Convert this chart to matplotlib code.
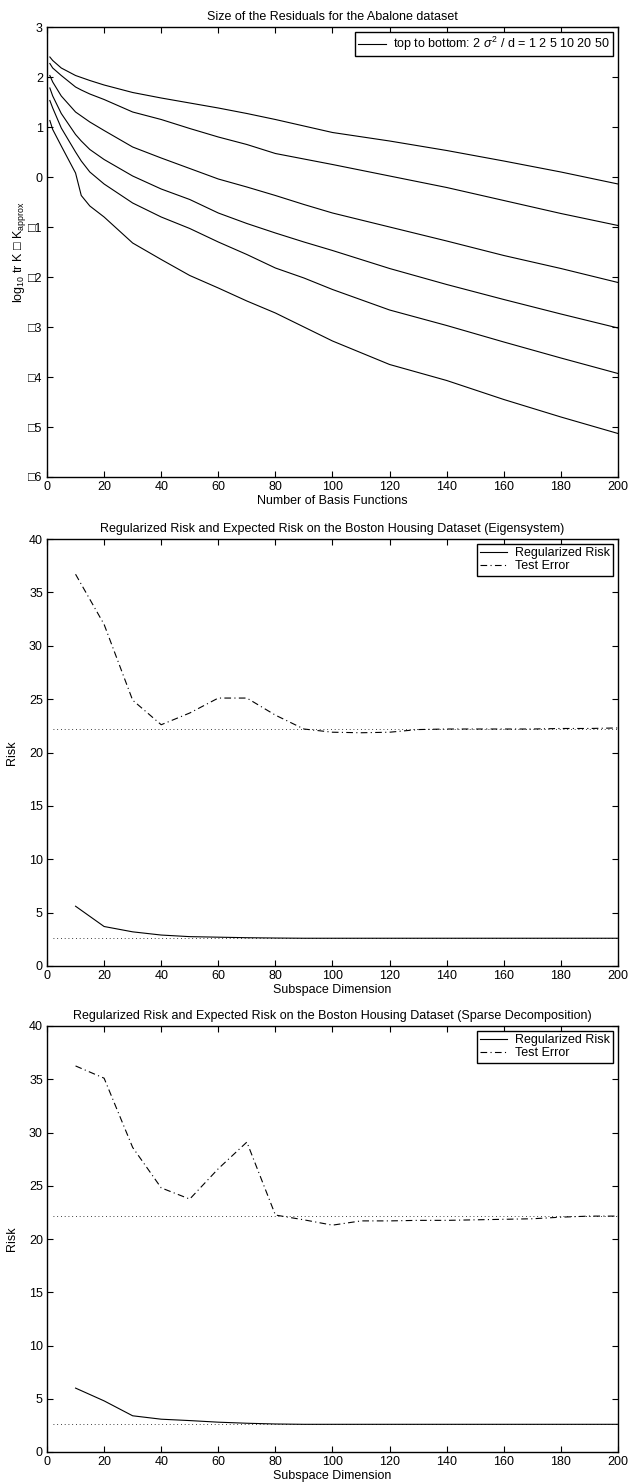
import numpy as np
import matplotlib
matplotlib.use("Agg")
import matplotlib.pyplot as plt

plt.rcParams["font.family"] = ["Liberation Sans", "DejaVu Sans"]
plt.rcParams["mathtext.fontset"] = "custom"
plt.rcParams["mathtext.rm"] = "Liberation Sans"
plt.rcParams["mathtext.it"] = "Liberation Sans:italic"
plt.rcParams["font.size"] = 9

# ---------------------------------------------------------------- data
# panel 1: residuals, Abalone dataset (one curve per 2 sigma^2 / d)
basis_n = [1, 2, 5, 10, 12, 15, 20, 30, 40, 50, 60, 70, 80, 90, 100,
           120, 140, 160, 180, 200]
sigma_ratio = [1, 2, 5, 10, 20, 50]
resid_1 = [2.40, 2.33, 2.18, 2.03, 1.99, 1.93, 1.84, 1.69, 1.58, 1.48, 1.38,
           1.27, 1.15, 1.02, 0.89, 0.72, 0.53, 0.32, 0.10, -0.14]
resid_2 = [2.27, 2.18, 2.03, 1.80, 1.74, 1.66, 1.55, 1.30, 1.15, 0.97, 0.80,
           0.65, 0.47, 0.36, 0.25, 0.02, -0.21, -0.47, -0.73, -0.97]
resid_5 = [2.03, 1.90, 1.62, 1.30, 1.22, 1.10, 0.93, 0.60, 0.38, 0.17, -0.04,
           -0.20, -0.37, -0.55, -0.72, -1.00, -1.28, -1.57, -1.83, -2.11]
resid_10 = [1.78, 1.62, 1.27, 0.85, 0.72, 0.55, 0.35, 0.02, -0.24, -0.45,
            -0.72, -0.93, -1.12, -1.30, -1.47, -1.83, -2.15, -2.45, -2.74, -3.02]
resid_20 = [1.53, 1.38, 0.98, 0.50, 0.32, 0.10, -0.14, -0.52, -0.80, -1.03,
            -1.30, -1.55, -1.82, -2.02, -2.25, -2.66, -2.97, -3.30, -3.62, -3.93]
resid_50 = [1.13, 0.95, 0.62, 0.08, -0.37, -0.58, -0.80, -1.32, -1.65, -1.97,
            -2.22, -2.48, -2.72, -3.00, -3.28, -3.75, -4.07, -4.45, -4.80, -5.13]
resid_curves = [resid_1, resid_2, resid_5, resid_10, resid_20, resid_50]
resid_yticks = [-6, -5, -4, -3, -2, -1, 0, 1, 2, 3]
resid_yticklabels = ["\u25a16", "\u25a15", "\u25a14", "\u25a13", "\u25a12",
                     "\u25a11", "0", "1", "2", "3"]

# panels 2 and 3: Boston housing
subspace_dim = [10, 20, 30, 40, 50, 60, 70, 80, 90, 100,
                110, 120, 130, 140, 150, 160, 170, 180, 190, 200]
eig_reg_risk = [5.6, 3.7, 3.2, 2.9, 2.75, 2.7, 2.65, 2.62, 2.6, 2.6,
                2.6, 2.6, 2.6, 2.6, 2.6, 2.6, 2.6, 2.6, 2.6, 2.6]
eig_test_err = [36.7, 32.0, 24.9, 22.6, 23.7, 25.1, 25.1, 23.5, 22.2, 21.9,
                21.85, 21.9, 22.15, 22.2, 22.2, 22.2, 22.2, 22.25, 22.25, 22.3]
sp_reg_risk = [6.0, 4.8, 3.4, 3.08, 2.95, 2.8, 2.7, 2.63, 2.6, 2.6,
               2.6, 2.6, 2.6, 2.6, 2.6, 2.6, 2.6, 2.6, 2.6, 2.6]
sp_test_err = [36.25, 35.1, 28.6, 24.8, 23.75, 26.6, 29.1, 22.25, 21.8, 21.3,
               21.7, 21.7, 21.75, 21.75, 21.8, 21.85, 21.9, 22.05, 22.15, 22.15]
ref_x = [2, 200]
ref_test = 22.2
ref_reg = 2.6

# ---------------------------------------------------------------- helpers
W, H = 643, 1483


def _axes(fig, left, top, right, bottom):
    return fig.add_axes([left / W, 1 - bottom / H, (right - left) / W,
                         (bottom - top) / H])


def _style(ax):
    ax.tick_params(direction="in", top=True, right=True, length=4,
                   width=0.8, labelsize=9, pad=3)
    for sp in ax.spines.values():
        sp.set_linewidth(1.0)
        sp.set_color("black")


def _legend(ax, **kw):
    leg = ax.legend(loc="upper right", frameon=True, fancybox=False,
                    edgecolor="black", framealpha=1, fontsize=9,
                    borderaxespad=0.4, borderpad=0.25, labelspacing=0.1,
                    handlelength=2.2, handletextpad=0.6, **kw)
    leg.get_frame().set_linewidth(1.0)
    return leg


def risk_panel(ax, reg, test, title):
    ax.plot(subspace_dim, reg, color="black", lw=0.8, label="Regularized Risk")
    ax.plot(subspace_dim, test, color="black", lw=0.8,
            linestyle=(0, (6, 3, 1, 3)), label="Test Error")
    ax.plot(ref_x, [ref_test, ref_test], color="black", lw=0.6,
            linestyle=(0, (1, 3.5)))
    ax.plot(ref_x, [ref_reg, ref_reg], color="black", lw=0.6,
            linestyle=(0, (1, 3.5)))
    ax.set_xlim(0, 200)
    ax.set_ylim(0, 40)
    ax.set_xticks(range(0, 201, 20))
    ax.set_yticks(range(0, 41, 5))
    ax.set_xlabel("Subspace Dimension", labelpad=1)
    ax.set_ylabel("Risk", labelpad=8)
    ax.set_title(title, fontsize=9, pad=5)
    _style(ax)
    _legend(ax)


# ---------------------------------------------------------------- figure
fig = plt.figure(figsize=(W / 100, H / 100), dpi=100)
fig.patch.set_facecolor("white")

ax1 = _axes(fig, 47, 27, 618, 477)
for i, ys in enumerate(resid_curves):
    ax1.plot(basis_n, ys, color="black", lw=0.8,
             label=r"top to bottom: 2 $\sigma^2$ / d = 1 2 5 10 20 50" if i == 0 else None)
ax1.set_xlim(0, 200)
ax1.set_ylim(-6, 3)
ax1.set_xticks(range(0, 201, 20))
ax1.set_yticks(resid_yticks)
ax1.set_yticklabels(resid_yticklabels)
ax1.set_xlabel("Number of Basis Functions", labelpad=1)
ax1.set_ylabel("log$_{10}$ tr K \u25a1 K$_{\\mathrm{approx}}$", labelpad=0)
ax1.set_title("Size of the Residuals for the Abalone dataset", fontsize=9, pad=5)
_style(ax1)
_legend(ax1)

ax2 = _axes(fig, 47, 539, 618, 966)
risk_panel(ax2, eig_reg_risk, eig_test_err,
           "Regularized Risk and Expected Risk on the Boston Housing Dataset (Eigensystem)")

ax3 = _axes(fig, 47, 1026, 618, 1452)
risk_panel(ax3, sp_reg_risk, sp_test_err,
           "Regularized Risk and Expected Risk on the Boston Housing Dataset (Sparse Decomposition)")

fig.savefig("out.png", dpi=100, facecolor=fig.get_facecolor())
plt.close(fig)
